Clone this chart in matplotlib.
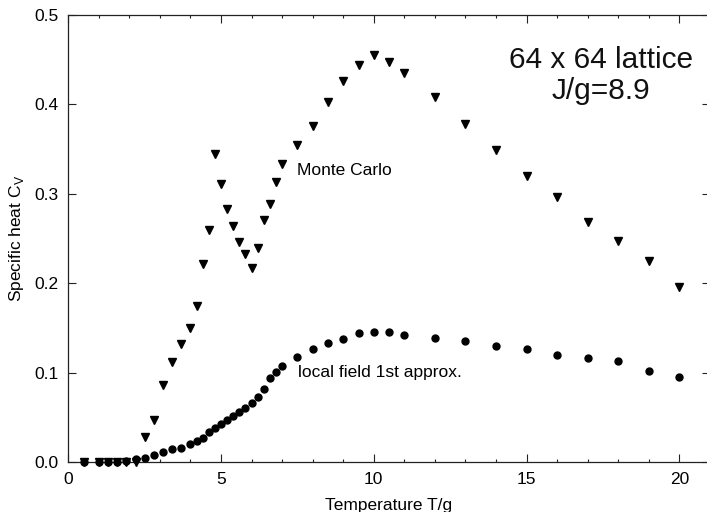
import matplotlib
matplotlib.use('Agg')
import matplotlib.pyplot as plt
from matplotlib.ticker import MultipleLocator

plt.rcParams['font.family'] = ['Liberation Sans', 'DejaVu Sans']
plt.rcParams['mathtext.fontset'] = 'custom'
plt.rcParams['mathtext.rm'] = 'Liberation Sans'

# Monte Carlo (triangles)
mc_T = [0.5, 1.0, 1.3, 1.6, 1.9, 2.2, 2.5, 2.8, 3.1, 3.4, 3.7, 4.0, 4.2, 4.4,
        4.6, 4.8, 5.0, 5.2, 5.4, 5.6, 5.8, 6.0, 6.2, 6.4, 6.6, 6.8, 7.0, 7.5,
        8, 8.5, 9, 9.5, 10, 10.5, 11, 12, 13, 14, 15, 16, 17, 18, 19, 20]
mc_C = [0, 0, 0, 0, 0, 0, 0.028, 0.047, 0.086, 0.112, 0.132, 0.150, 0.174, 0.221,
        0.260, 0.345, 0.311, 0.283, 0.264, 0.246, 0.233, 0.217, 0.239, 0.271,
        0.289, 0.313, 0.333, 0.355, 0.376, 0.403, 0.426, 0.444, 0.455, 0.447,
        0.435, 0.408, 0.378, 0.349, 0.320, 0.296, 0.269, 0.247, 0.225, 0.196]

# local field 1st approx. (dots)
lf_T = [0.5, 1.0, 1.3, 1.6, 1.9, 2.2, 2.5, 2.8, 3.1, 3.4, 3.7, 4.0, 4.2, 4.4,
        4.6, 4.8, 5.0, 5.2, 5.4, 5.6, 5.8, 6.0, 6.2, 6.4, 6.6, 6.8, 7.0, 7.5,
        8, 8.5, 9, 9.5, 10, 10.5, 11, 12, 13, 14, 15, 16, 17, 18, 19, 20]
lf_C = [0, 0, 0, 0, 0.001, 0.003, 0.005, 0.008, 0.011, 0.014, 0.016, 0.020,
        0.024, 0.027, 0.033, 0.038, 0.042, 0.047, 0.051, 0.056, 0.060, 0.066,
        0.073, 0.082, 0.094, 0.101, 0.107, 0.117, 0.126, 0.133, 0.138, 0.144,
        0.145, 0.145, 0.142, 0.139, 0.135, 0.130, 0.126, 0.120, 0.116, 0.113,
        0.102, 0.095]

fig = plt.figure(figsize=(7.07, 5.12), dpi=100)
ax = fig.add_axes([0.0966, 0.0977, 0.9074, 0.873])

ax.plot(lf_T, lf_C, 'o', color='black', markersize=5.0, clip_on=False, zorder=3)
ax.plot(mc_T, mc_C, 'v', color='black', markersize=6.3, clip_on=False, zorder=4)

ax.text(7.48, 0.326, 'Monte Carlo', fontsize=12.5, va='center', ha='left')
ax.text(7.53, 0.100, 'local field 1st approx.', fontsize=12.5, va='center', ha='left')
ax.text(17.43, 0.4326, '64 x 64 lattice\nJ/g=8.9', fontsize=21.5, va='center',
        ha='center', multialignment='center', linespacing=1.15, color='#111111')

ax.set_xlim(0, 21)
ax.set_ylim(0, 0.5)
ax.xaxis.set_major_locator(MultipleLocator(5))
ax.xaxis.set_minor_locator(MultipleLocator(1))
ax.set_yticks([0, 0.1, 0.2, 0.3, 0.4, 0.5])
ax.set_yticklabels(['0.0', '0.1', '0.2', '0.3', '0.4', '0.5'])

ax.tick_params(which='both', direction='in', top=True, right=True,
               labelsize=12.5, color='#222222')
ax.tick_params(which='major', length=5.5, width=0.8, pad=7)
ax.tick_params(which='minor', length=2.2, width=0.8)

for sp in ax.spines.values():
    sp.set_linewidth(0.9)
    sp.set_color('#222222')

ax.set_xlabel('Temperature T/g', fontsize=12.5, labelpad=8)
ax.set_ylabel(r'Specific heat C$_\mathregular{V}$', fontsize=12.5, labelpad=6)

fig.savefig('out.png', dpi=100)
